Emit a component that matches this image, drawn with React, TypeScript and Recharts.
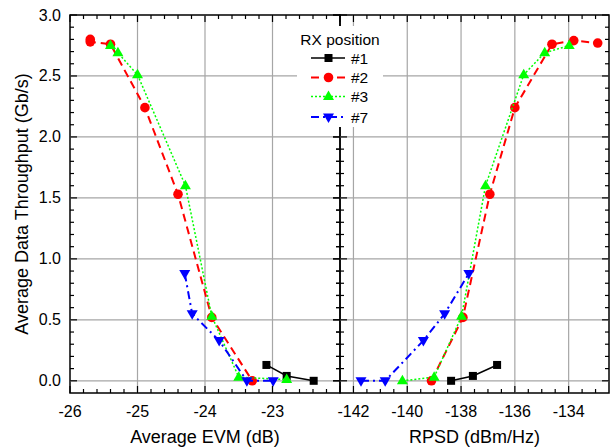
import React from 'react'
import { ScatterChart, Scatter, XAxis, YAxis, ReferenceLine, ReferenceArea, Legend } from 'recharts'

const FONT = '"Liberation Sans", Arial, Helvetica, sans-serif'

// throughput (Gb/s) vs average EVM (dB), per RX position
const evmPos1 = [[-23.09, 0.13], [-22.79, 0.04], [-22.39, 0.0]]
const evmPos2 = [[-25.7, 2.8], [-25.7, 2.78], [-25.4, 2.76], [-24.89, 2.24], [-24.4, 1.53], [-23.9, 0.52], [-23.3, 0.0]]
const evmPos3 = [[-25.4, 2.75], [-25.29, 2.69], [-25.0, 2.51], [-24.29, 1.6], [-23.9, 0.53], [-23.5, 0.03], [-22.79, 0.01]]
const evmPos7 = [[-24.3, 0.88], [-24.19, 0.55], [-23.79, 0.33], [-23.38, 0.0], [-22.99, 0.0]]

// throughput (Gb/s) vs RPSD (dBm/Hz)
const rpsdPos1 = [[-138.37, 0.0], [-137.56, 0.04], [-136.66, 0.13]]
const rpsdPos2 = [[-139.1, 0.0], [-137.93, 0.52], [-136.93, 1.53], [-136.0, 2.24], [-134.62, 2.76], [-133.81, 2.79], [-132.92, 2.77]]
const rpsdPos3 = [[-140.18, 0.0], [-139.0, 0.03], [-137.98, 0.53], [-137.09, 1.6], [-135.67, 2.51], [-134.89, 2.69], [-133.98, 2.75]]
const rpsdPos7 = [[-141.72, 0.0], [-140.82, 0.0], [-139.4, 0.33], [-138.61, 0.55], [-137.71, 0.88]]

const yMajor = [0, 0.5, 1, 1.5, 2, 2.5, 3]
const yGrid = [0, 0.5, 1, 1.5, 2, 2.5]
const evmMajor = [-26, -25, -24, -23, -22]
const evmLabels = [-26, -25, -24, -23]
const evmGrid = [-25, -24, -23]
const rpsdMajor = [-142, -140, -138, -136, -134]
const rpsdLabels = [-142, -140, -138, -136, -134]
const rpsdGrid = [-142, -140, -138, -136, -134]

const steps = (from: number, n: number, step: number) =>
  Array.from({ length: n }, (_, i) => Math.round((from + i * step) * 10) / 10)
const yTicks = steps(0, 31, 0.1)
const evmTicks = steps(-26, 21, 0.2)
const rpsdTicks = steps(-142, 19, 0.5)

const toPts = (a: number[][]) => a.map(([x, y]) => ({ x, y }))

const SERIES = [
  { name: '#1', color: '#000000', dash: undefined, width: 1.5, kind: 'square', evm: evmPos1, rpsd: rpsdPos1 },
  { name: '#2', color: '#ff0000', dash: '8 5', width: 2, kind: 'circle', evm: evmPos2, rpsd: rpsdPos2 },
  { name: '#3', color: '#00ff00', dash: '2 2', width: 1.5, kind: 'up', evm: evmPos3, rpsd: rpsdPos3 },
  { name: '#7', color: '#0000ff', dash: '8 4 2 4', width: 2, kind: 'down', evm: evmPos7, rpsd: rpsdPos7 },
]

const TOP = 15
const BOTTOM = 393
const GRID = '#a6a6a6'
const RIGHT_X = 300 // page x of the right chart's svg
const RIGHT_AXIS_W = 40

const near = (list: number[], v: number) => list.some((m) => Math.abs(m - v) < 1e-6)

function Marker({ kind, cx, cy, color }: { kind: string; cx: number; cy: number; color: string }) {
  if (cx == null || cy == null) return null
  if (kind === 'square') return <rect x={cx - 4} y={cy - 4} width={8} height={8} fill={color} />
  if (kind === 'circle') return <circle cx={cx} cy={cy} r={4.8} fill={color} />
  if (kind === 'up') return <polygon points={`${cx},${cy - 6} ${cx + 5.5},${cy + 3.5} ${cx - 5.5},${cy + 3.5}`} fill={color} />
  return <polygon points={`${cx},${cy + 6} ${cx + 5.5},${cy - 3.5} ${cx - 5.5},${cy - 3.5}`} fill={color} />
}

// ticks on bottom and top edge, pointing inward
const xTick = (majors: number[], labels: number[]) => (p: any) => {
  const v = p.payload.value
  const len = near(majors, v) ? 7 : 4
  return (
    <g>
      <line x1={p.x} x2={p.x} y1={BOTTOM} y2={BOTTOM - len} stroke="#000" strokeWidth={1.2} />
      <line x1={p.x} x2={p.x} y1={TOP} y2={TOP + len} stroke="#000" strokeWidth={1.2} />
      {near(labels, v) && (
        <text x={p.x} y={BOTTOM + 18} textAnchor="middle" dominantBaseline="central" fontSize={16} fontFamily={FONT} fill="#000">
          {v}
        </text>
      )}
    </g>
  )
}

// ticks on left and right edge; the shared middle edge gets ticks on both sides
const yTick = (left: number, right: number, bothSides: boolean, showLabels: boolean) => (p: any) => {
  const v = p.payload.value
  const len = near(yMajor, v) ? 7 : 4
  return (
    <g>
      <line x1={bothSides ? left - len : left} x2={left + len} y1={p.y} y2={p.y} stroke="#000" strokeWidth={1.2} />
      <line x1={right - len} x2={right} y1={p.y} y2={p.y} stroke="#000" strokeWidth={1.2} />
      {showLabels && near(yMajor, v) && (
        <text x={left - 9} y={p.y} textAnchor="end" dominantBaseline="central" fontSize={16} fontFamily={FONT} fill="#000">
          {v.toFixed(1)}
        </text>
      )}
    </g>
  )
}

function LegendBox() {
  const rows = [32, 51.5, 70.5, 91]
  return (
    <svg width={86} height={101} style={{ display: 'block' }}>
      <text x={43} y={13} textAnchor="middle" dominantBaseline="central" fontSize={15.5} fontFamily={FONT}>
        RX position
      </text>
      {SERIES.map((s, i) => (
        <g key={s.name}>
          <line x1={14} x2={48} y1={rows[i]} y2={rows[i]} stroke={s.color} strokeWidth={s.width} strokeDasharray={s.dash} />
          <Marker kind={s.kind} cx={31.5} cy={rows[i]} color={s.color} />
          <text x={54} y={rows[i]} dominantBaseline="central" fontSize={15.5} fontFamily={FONT}>
            {s.name}
          </text>
        </g>
      ))}
    </svg>
  )
}

const title = (x: number, y: number, text: string, rotate = false) => () => (
  <text
    x={x}
    y={y}
    textAnchor="middle"
    dominantBaseline="central"
    fontSize={18}
    fontFamily={FONT}
    fill="#000"
    transform={rotate ? `rotate(-90, ${x}, ${y})` : undefined}
  >
    {text}
  </text>
)

export default function App() {
  const rLeft = RIGHT_AXIS_W
  const rRight = 609 - RIGHT_X
  return (
    <div style={{ position: 'fixed', left: 0, top: 0, width: 611, height: 448, background: '#fff', overflow: 'hidden' }}>
      <div style={{ position: 'absolute', left: 0, top: 0 }}>
        <ScatterChart width={341} height={448} margin={{ top: TOP, right: 1, bottom: 0, left: 0 }}>
          <XAxis
            xAxisId="e"
            type="number"
            dataKey="x"
            domain={[-26, -22]}
            allowDataOverflow
            ticks={evmTicks}
            interval={0}
            height={448 - BOTTOM}
            axisLine={false}
            tickLine={false}
            tick={xTick(evmMajor, evmLabels)}
            label={title(205, 437, 'Average EVM (dB)')}
          />
          <YAxis
            yAxisId="l"
            type="number"
            dataKey="y"
            domain={[-0.1, 3.0]}
            allowDataOverflow
            ticks={yTicks}
            interval={0}
            width={70}
            axisLine={false}
            tickLine={false}
            tick={yTick(70, 340, false, true)}
            label={title(22, 204, 'Average Data Throughput (Gb/s)', true)}
          />
          {evmGrid.map((v) => (
            <ReferenceLine key={'x' + v} xAxisId="e" yAxisId="l" x={v} stroke={GRID} strokeWidth={1.2} />
          ))}
          {yGrid.map((v) => (
            <ReferenceLine key={'y' + v} xAxisId="e" yAxisId="l" y={v} stroke={GRID} strokeWidth={1.2} />
          ))}
          <ReferenceArea xAxisId="e" yAxisId="l" x1={-26} x2={-22} y1={-0.1} y2={3.0} fill="none" stroke="#000" strokeWidth={1.5} />
          {SERIES.map((s) => (
            <Scatter
              key={s.name}
              name={s.name}
              xAxisId="e"
              yAxisId="l"
              data={toPts(s.evm)}
              fill={s.color}
              line={{ stroke: s.color, strokeWidth: s.width, strokeDasharray: s.dash }}
              lineJointType="linear"
              shape={(p: any) => <Marker kind={s.kind} cx={p.cx} cy={p.cy} color={s.color} />}
              isAnimationActive={false}
            />
          ))}
        </ScatterChart>
      </div>
      <div style={{ position: 'absolute', left: RIGHT_X, top: 0 }}>
        <ScatterChart width={611 - RIGHT_X} height={448} margin={{ top: TOP, right: 2, bottom: 0, left: 0 }}>
          <XAxis
            xAxisId="r"
            type="number"
            dataKey="x"
            domain={[-142.5, -132.5]}
            allowDataOverflow
            ticks={rpsdTicks}
            interval={0}
            height={448 - BOTTOM}
            axisLine={false}
            tickLine={false}
            tick={xTick(rpsdMajor, rpsdLabels)}
            label={title((rLeft + rRight) / 2, 437, 'RPSD (dBm/Hz)')}
          />
          <YAxis
            yAxisId="l"
            type="number"
            dataKey="y"
            domain={[-0.1, 3.0]}
            allowDataOverflow
            ticks={yTicks}
            interval={0}
            width={RIGHT_AXIS_W}
            axisLine={false}
            tickLine={false}
            tick={yTick(rLeft, rRight, true, false)}
          />
          {rpsdGrid.map((v) => (
            <ReferenceLine key={'x' + v} xAxisId="r" yAxisId="l" x={v} stroke={GRID} strokeWidth={1.2} />
          ))}
          {yGrid.map((v) => (
            <ReferenceLine key={'y' + v} xAxisId="r" yAxisId="l" y={v} stroke={GRID} strokeWidth={1.2} />
          ))}
          <ReferenceArea xAxisId="r" yAxisId="l" x1={-142.5} x2={-132.5} y1={-0.1} y2={3.0} fill="none" stroke="#000" strokeWidth={1.5} />
          {SERIES.map((s) => (
            <Scatter
              key={s.name}
              name={s.name}
              xAxisId="r"
              yAxisId="l"
              data={toPts(s.rpsd)}
              fill={s.color}
              line={{ stroke: s.color, strokeWidth: s.width, strokeDasharray: s.dash }}
              lineJointType="linear"
              shape={(p: any) => <Marker kind={s.kind} cx={p.cx} cy={p.cy} color={s.color} />}
              isAnimationActive={false}
            />
          ))}
          <Legend
            layout="horizontal"
            align="center"
            verticalAlign="middle"
            wrapperStyle={{ left: 297 - RIGHT_X, top: 26, width: 86, height: 101, background: '#fff', margin: 0, padding: 0 }}
            content={() => <LegendBox />}
          />
        </ScatterChart>
      </div>
    </div>
  )
}
